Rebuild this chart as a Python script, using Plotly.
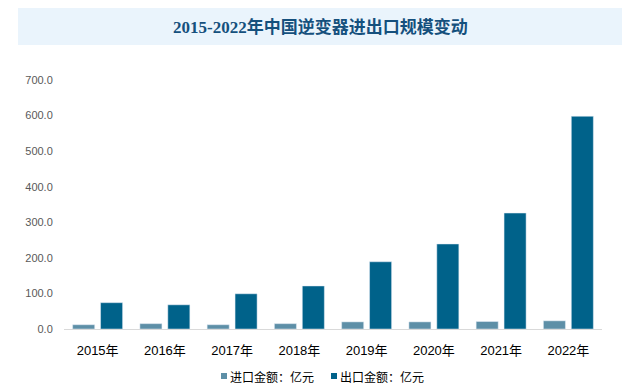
import plotly.graph_objects as go

years = ["2015年", "2016年", "2017年", "2018年", "2019年", "2020年", "2021年", "2022年"]
import_vals = [12, 15, 12, 15, 20, 20, 21, 23]
export_vals = [74, 68, 99, 121, 189, 239, 326, 598]
import_name = "进口金额：亿元"
export_name = "出口金额：亿元"
import_color = "#5D8FA7"
export_color = "#00628A"
title_text = "2015-2022年中国逆变器进出口规模变动"
y_ticks = [0, 100, 200, 300, 400, 500, 600, 700]

# page body has an 8px margin, so work in figure coords = screen coords - 8
OFF = 8
W, H = 625, 383
L, T = 64 - OFF, 80 - OFF
R = W - (602 - OFF)
B = H - (329 - OFF)
pw, ph = W - L - R, H - T - B

def px(x):  # x in screen pixels
    return (x - OFF - L) / pw

def py(y):  # y in screen pixels
    return (H - B - (y - OFF)) / ph

fig = go.Figure()
fig.add_trace(go.Bar(x=years, y=import_vals, name=import_name, marker_color=import_color))
fig.add_trace(go.Bar(x=years, y=export_vals, name=export_name, marker_color=export_color))

legend_items = [(import_name, import_color, 221), (export_name, export_color, 331)]
shapes = [dict(type="rect", xref="paper", yref="paper",
               x0=px(18), x1=px(622), y0=py(45), y1=py(8),
               fillcolor="#EAF4FC", line=dict(width=0), layer="below")]
annotations = [dict(text="<b>" + title_text + "</b>", xref="paper", yref="paper",
                    x=px(320), y=py(27), xanchor="center", yanchor="middle",
                    showarrow=False,
                    font=dict(size=17, color="#15507D",
                              family="Liberation Serif, Noto Sans CJK SC, serif"))]
for name, color, x0 in legend_items:
    shapes.append(dict(type="rect", xref="paper", yref="paper",
                       x0=px(x0), x1=px(x0 + 6), y0=py(379), y1=py(373),
                       fillcolor=color, line=dict(width=0)))
    annotations.append(dict(text=name, xref="paper", yref="paper",
                            x=px(x0 + 7), y=py(376), xanchor="left", yanchor="middle",
                            showarrow=False,
                            font=dict(size=12, color="#000000",
                                      family="Noto Sans CJK SC, sans-serif")))

fig.update_layout(
    width=W, height=H,
    margin=dict(l=L, r=R, t=T, b=B),
    paper_bgcolor="white", plot_bgcolor="white",
    barmode="group", bargap=0.17, bargroupgap=0.21,
    font=dict(family="Noto Sans CJK SC, Liberation Sans, sans-serif"),
    showlegend=False,
    xaxis=dict(showgrid=False, showline=True, linecolor="#D9D9D9", linewidth=1,
               ticks="outside", ticklen=9, tickcolor="rgba(0,0,0,0)",
               tickfont=dict(size=13, color="#000000",
                             family="Liberation Sans, Noto Sans CJK SC")),
    yaxis=dict(range=[0, 700], tickvals=y_ticks, tickformat=".1f", showgrid=False,
               zeroline=False, showline=False,
               ticks="outside", ticklen=8, tickcolor="rgba(0,0,0,0)",
               tickfont=dict(size=11, color="#595959", family="Liberation Sans, sans-serif")),
    shapes=shapes,
    annotations=annotations,
)

fig.write_html("out.html")
